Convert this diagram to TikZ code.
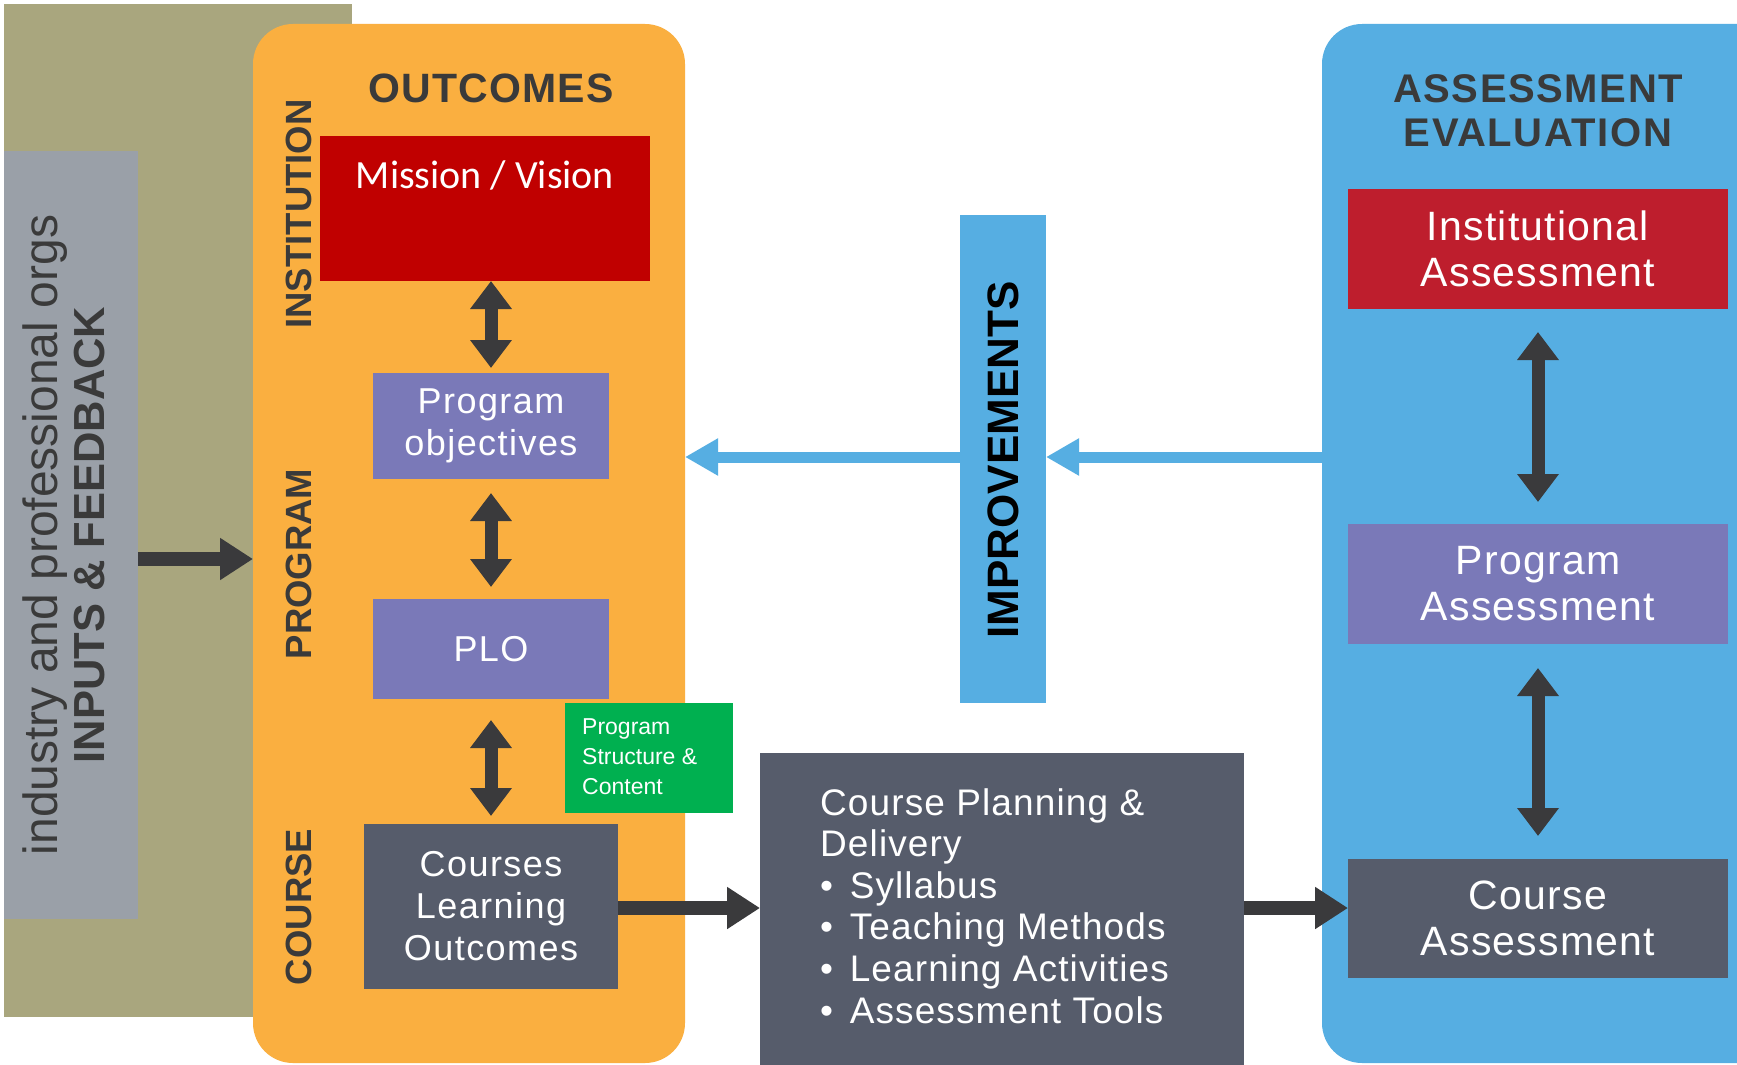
\documentclass[tikz,border=0pt]{standalone}
\usepackage{fontspec}
\setmainfont{Liberation Sans}
\newfontfamily\carlito{Carlito}
\usetikzlibrary{arrows.meta,calc}
\definecolor{cOlive}{HTML}{A9A67E}
\definecolor{cGray}{HTML}{9AA0A8}
\definecolor{cOrange}{HTML}{FAAF40}
\definecolor{cMission}{HTML}{C00000}
\definecolor{cPurple}{HTML}{7A79B8}
\definecolor{cSlate}{HTML}{565C6B}
\definecolor{cGreen}{HTML}{00B050}
\definecolor{cBlue}{HTML}{56AEE2}
\definecolor{cInst}{HTML}{BE1E2D}
\definecolor{cArrow}{HTML}{3A3A3C}
\definecolor{cTitle}{HTML}{3A3A3A}
\begin{document}
\begin{tikzpicture}[x=1pt,y=-1pt,
  box/.style={inner sep=0pt, outer sep=0pt, align=center, text=white},
  sidelabel/.style={rotate=90, inner sep=0pt, text=cTitle, font=\fontsize{36.5}{40}\selectfont\bfseries},
  dbl/.style={draw=cArrow, line width=13pt, {Triangle[length=28pt,width=40pt]}-{Triangle[length=28pt,width=40pt]}},
  fat/.style={draw=cArrow, line width=14pt, -{Triangle[length=33pt,width=40pt]}},
  barrow/.style={draw=cBlue, line width=11pt, -{Triangle[length=33pt,width=35pt]}},
  txt36/.style={font=\fontsize{36}{42}\selectfont\addfontfeatures{LetterSpace=4}},
  txt40/.style={font=\fontsize{41}{46}\selectfont\addfontfeatures{LetterSpace=3}}]
\useasboundingbox (0,0) rectangle (1737,1065);
\clip (0,0) rectangle (1737,1065);
\fill[white] (0,0) rectangle (1737,1065);

% left panels
\node[box, fill=cOlive, minimum width=348pt, minimum height=1013pt] (olive) at (178,510.5) {};
\node[box, fill=cGray, minimum width=134pt, minimum height=768pt] (gray) at (71,535) {};
\node[rotate=90, inner sep=0pt, align=center, text=cTitle, font=\fontsize{48}{47}\selectfont] (gtext) at (64,535)
  {industry and professional orgs\\{\fontsize{43.5}{47}\selectfont\bfseries INPUTS \& FEEDBACK}};

% outcomes panel
\node[box, fill=cOrange, rounded corners=40pt, minimum width=432pt, minimum height=1039pt] (orange) at (469,543.5) {};
\node[inner sep=0pt, text=cTitle, font=\fontsize{41}{44}\selectfont\bfseries\addfontfeatures{LetterSpace=3}] (outcomes) at (491,88) {OUTCOMES};
\node[sidelabel] (inst) at (299,214) {INSTITUTION};
\node[sidelabel] (prog) at (299,564) {PROGRAM};
\node[sidelabel] (course) at (299,907) {COURSE};

\node[box, fill=cMission, minimum width=330pt, minimum height=145pt] (mission) at (485,208.5) {};
\node[inner sep=0pt, text=white, font=\carlito\fontsize{40}{44}\selectfont] (missiontext) at ($(mission.north)+(0,39)$) {Mission / Vision};
\node[box, txt36, fill=cPurple, minimum width=236pt, minimum height=106pt] (progobj) at (491,426) {Program\\objectives};
\node[box, txt36, fill=cPurple, minimum width=236pt, minimum height=100pt] (plo) at (491,649) {PLO};
\node[box, fill=cGreen, minimum width=168pt, minimum height=110pt] (green) at (649,758) {};
\node[anchor=north west, inner sep=0pt, align=left, text=white, font=\fontsize{23}{30}\selectfont] (greentext) at (582,718) {Program\\Structure \&\\Content};
\node[box, txt36, fill=cSlate, minimum width=254pt, minimum height=165pt] (clo) at (491,906.5) {Courses\\Learning\\Outcomes};

\draw[dbl] (progobj.north |- mission.south) -- ([yshift=5pt]progobj.north);
\draw[dbl] ([yshift=-14pt]progobj.south) -- ([yshift=12pt]plo.north);
\draw[dbl] ([yshift=-21pt]plo.south) -- ([yshift=8pt]clo.north);

% improvements
\node[box, fill=cBlue, minimum width=86pt, minimum height=488pt] (impr) at (1003,459) {};
\node[rotate=90, inner sep=0pt, text=black, font=\fontsize{44}{48}\selectfont\bfseries] (imprtext) at (1003,460) {IMPROVEMENTS};

% course planning
\node[box, fill=cSlate, minimum width=484pt, minimum height=317pt] (cpd) at (1002,911.5) {};
\node[anchor=north west, inner sep=0pt, align=left, text=white, font=\fontsize{37}{41.6}\selectfont\addfontfeatures{LetterSpace=3}] (cpdtext) at (820,788)
  {Course Planning \&\\Delivery\\\textbullet\hspace{0.45em}Syllabus\\\textbullet\hspace{0.45em}Teaching Methods\\\textbullet\hspace{0.45em}Learning Activities\\\textbullet\hspace{0.45em}Assessment Tools};

% assessment panel
\node[box, fill=cBlue, rounded corners=40pt, minimum width=468pt, minimum height=1039pt] (blue) at (1556,543.5) {};
\node[inner sep=0pt, align=center, text=cTitle, font=\fontsize{40}{44}\selectfont\bfseries\addfontfeatures{LetterSpace=4}] (asstitle) at (1538,111) {ASSESSMENT\\EVALUATION};
\node[box, txt40, fill=cInst, minimum width=380pt, minimum height=120pt] (instass) at (1538,249) {Institutional\\Assessment};
\node[box, txt40, fill=cPurple, minimum width=380pt, minimum height=120pt] (progass) at (1538,584) {Program\\Assessment};
\node[box, txt40, fill=cSlate, minimum width=380pt, minimum height=119pt] (courseass) at (1538,918.5) {Course\\Assessment};

\draw[dbl] ([yshift=-23pt]instass.south) -- ([yshift=22pt]progass.north);
\draw[dbl] ([yshift=-24pt]progass.south) -- ([yshift=23pt]courseass.north);

% connectors
\coordinate (gin) at (gray.east |- 0,559);
\draw[fat] (gin) -- (gin -| orange.west);
\draw[fat] (clo.east |- 0,908) -- (cpd.west |- 0,908);
\draw[fat] (cpd.east |- 0,908) -- (courseass.west |- 0,908);
\draw[barrow] (blue.west |- 0,457) -- (impr.east |- 0,457);
\draw[barrow] (impr.west |- 0,457) -- (orange.east |- 0,457);
\end{tikzpicture}
\end{document}
